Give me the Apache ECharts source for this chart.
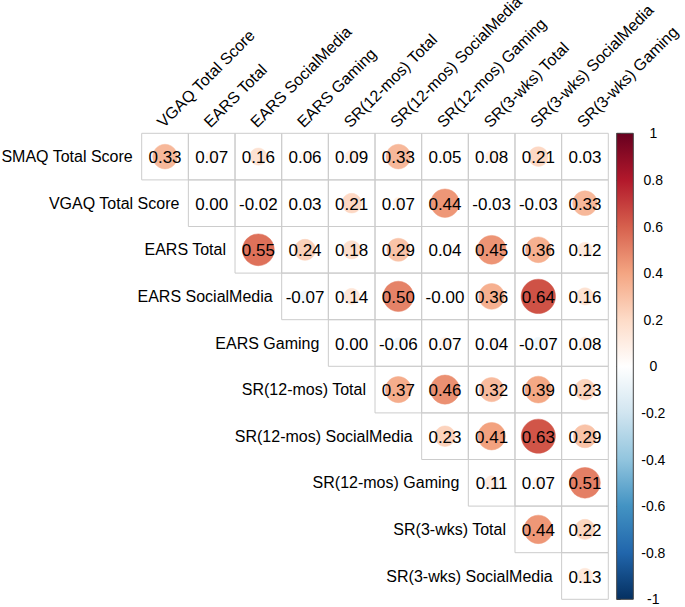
<!DOCTYPE html>
<html>
<head>
<meta charset="utf-8">
<script src="https://cdn.jsdelivr.net/npm/echarts@6/dist/echarts.min.js"></script>
<style>
html,body{margin:0;padding:0;background:#fff;}
#chart{width:685px;height:607px;}
</style>
</head>
<body>
<div id="chart"></div>
<script>
const rowLabels = ['SMAQ Total Score','VGAQ Total Score','EARS Total','EARS SocialMedia','EARS Gaming','SR(12-mos) Total','SR(12-mos) SocialMedia','SR(12-mos) Gaming','SR(3-wks) Total','SR(3-wks) SocialMedia'];
const colLabels = ['VGAQ Total Score','EARS Total','EARS SocialMedia','EARS Gaming','SR(12-mos) Total','SR(12-mos) SocialMedia','SR(12-mos) Gaming','SR(3-wks) Total','SR(3-wks) SocialMedia','SR(3-wks) Gaming'];
// each row starts at the diagonal column (row i -> columns i..9)
const rowSMAQ   = [0.33, 0.07, 0.16, 0.06, 0.09, 0.33, 0.05, 0.08, 0.21, 0.03];
const rowVGAQ   = [0.001, -0.02, 0.03, 0.21, 0.07, 0.44, -0.03, -0.03, 0.33];
const rowEARST  = [0.55, 0.24, 0.18, 0.29, 0.04, 0.45, 0.36, 0.12];
const rowEARSSM = [-0.07, 0.14, 0.50, -0.004, 0.36, 0.64, 0.16];
const rowEARSG  = [0.001, -0.06, 0.07, 0.04, -0.07, 0.08];
const rowSR12T  = [0.37, 0.46, 0.32, 0.39, 0.23];
const rowSR12SM = [0.23, 0.41, 0.63, 0.29];
const rowSR12G  = [0.11, 0.07, 0.51];
const rowSR3T   = [0.44, 0.22];
const rowSR3SM  = [0.13];
const corrRows = [rowSMAQ,rowVGAQ,rowEARST,rowEARSSM,rowEARSG,rowSR12T,rowSR12SM,rowSR12G,rowSR3T,rowSR3SM];
const paletteLowToHigh = ['#053061','#2166AC','#4393C3','#92C5DE','#D1E5F0','#FFFFFF','#FDDBC7','#F4A582','#D6604D','#B2182B','#67001F'];

const cells = [];
corrRows.forEach((row, i) => row.forEach((v, k) => cells.push([i + k, i, v])));

const FONT = 'Liberation Sans, Arial, Helvetica, sans-serif';
const chart = echarts.init(document.getElementById('chart'), null, {renderer: 'svg'});

const gradStops = paletteLowToHigh.slice().reverse().map((c, i, a) => ({offset: i / (a.length - 1), color: c}));

chart.setOption({
  animation: false,
  textStyle: {fontFamily: FONT},
  grid: [
    {left: 141.7, top: 133.3, width: 466.6, height: 466},
    {left: 616.7, top: 133.3, width: 16.6, height: 466}
  ],
  xAxis: [
    {type: 'category', data: colLabels, gridIndex: 0, position: 'top', show: false},
    {type: 'value', gridIndex: 1, min: 0, max: 1, show: false}
  ],
  yAxis: [
    {type: 'category', data: rowLabels, gridIndex: 0, inverse: true, show: false},
    {type: 'value', gridIndex: 1, min: -1, max: 1, interval: 0.2, position: 'right',
     axisLine: {show: false}, splitLine: {show: false},
     axisTick: {show: true, length: 4, lineStyle: {color: '#333'}},
     axisLabel: {fontSize: 14, color: '#000', margin: 20, align: 'center', fontFamily: FONT}}
  ],
  visualMap: {
    type: 'continuous', show: false, min: -1, max: 1, dimension: 2, seriesIndex: 0,
    inRange: {color: paletteLowToHigh}
  },
  series: [
    {
      type: 'custom', xAxisIndex: 0, yAxisIndex: 0, data: cells,
      renderItem: function (params, api) {
        const c = api.coord([api.value(0), api.value(1)]);
        const s = api.size([1, 1]);
        const v = api.value(2);
        const r = 0.92 * Math.sqrt(Math.abs(v)) * s[0] / 2;
        const col = api.visual('color');
        return {
          type: 'group',
          children: [
            {type: 'rect', shape: {x: c[0] - s[0] / 2, y: c[1] - s[1] / 2, width: s[0], height: s[1]},
             style: {fill: 'none', stroke: '#cccccc', lineWidth: 1}},
            {type: 'circle', shape: {cx: c[0], cy: c[1], r: r}, style: {fill: col, stroke: col, lineWidth: 0.5}},
            {type: 'text', style: {x: c[0], y: c[1] + 1, text: v.toFixed(2), align: 'center', verticalAlign: 'middle',
             fill: '#000', fontSize: 17, fontFamily: FONT}}
          ]
        };
      }
    },
    {
      type: 'custom', xAxisIndex: 0, yAxisIndex: 0, data: rowLabels.map((l, i) => [i, i]),
      renderItem: function (params, api) {
        const c = api.coord([api.value(0), api.value(1)]);
        const s = api.size([1, 1]);
        return {type: 'text', style: {x: c[0] - s[0] / 2 - 9, y: c[1], text: rowLabels[params.dataIndex],
          align: 'right', verticalAlign: 'middle', fill: '#000', fontSize: 16, fontFamily: FONT}};
      }
    },
    {
      type: 'custom', xAxisIndex: 0, yAxisIndex: 0, data: colLabels.map((l, j) => [j, 0]),
      renderItem: function (params, api) {
        const c = api.coord([api.value(0), api.value(1)]);
        const s = api.size([1, 1]);
        return {type: 'text', x: c[0] + 0.5, y: c[1] - s[1] / 2 - 3, rotation: Math.PI / 4,
          style: {x: 0, y: 0, text: colLabels[params.dataIndex],
          align: 'left', verticalAlign: 'bottom', fill: '#000', fontSize: 16, fontFamily: FONT}};
      }
    },
    {
      type: 'custom', xAxisIndex: 1, yAxisIndex: 1, data: [[0, -1]],
      renderItem: function (params, api) {
        const top = api.coord([0, 1]);
        const bot = api.coord([0, -1]);
        const cs = params.coordSys;
        return {type: 'rect', shape: {x: cs.x, y: top[1], width: cs.width, height: bot[1] - top[1]},
          style: {fill: new echarts.graphic.LinearGradient(0, 0, 0, 1, gradStops), stroke: '#444', lineWidth: 1}};
      }
    }
  ]
});
</script>
</body>
</html>
